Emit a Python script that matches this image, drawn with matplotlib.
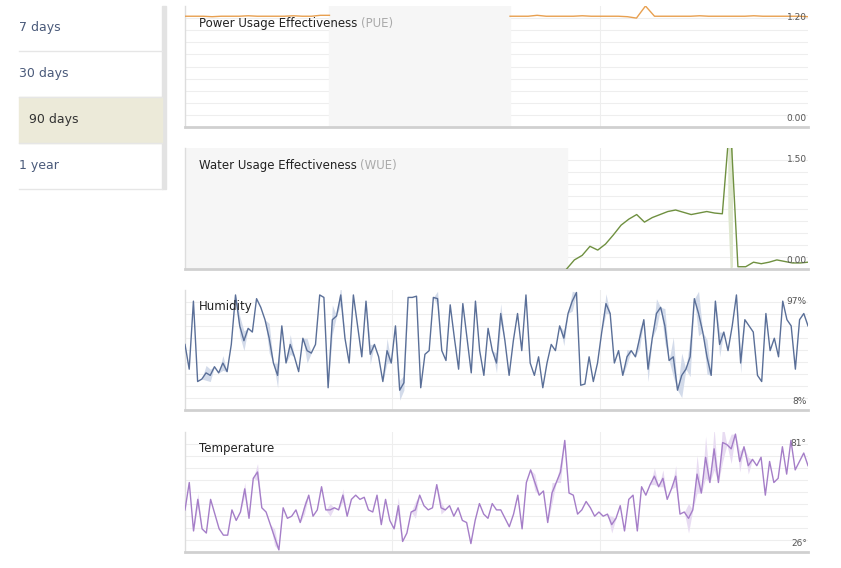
import numpy as np
import matplotlib
matplotlib.use("Agg")
import matplotlib.pyplot as plt
from matplotlib.patches import Rectangle

menu_items = ["7 days", "30 days", "90 days", "1 year"]
selected = "90 days"

pue_values = [1.19,1.19,1.19,1.185,1.19,1.19,1.19,1.195,1.19,1.19,1.19,1.19,1.195,1.19,1.19,1.2,1.2,
              None,None,None,None,None,None,None,None,None,None,None,None,None,None,None,None,None,None,None,
              1.19,1.19,1.19,1.2,1.19,1.19,1.19,1.19,1.195,1.19,1.19,1.19,1.19,1.185,1.17,1.30,1.19,1.19,1.19,
              1.19,1.19,1.195,1.19,1.19,1.19,1.19,1.19,1.195,1.19,1.19,1.19,1.19,1.19,1.185]
wue_values = [None]*49 + [0.0,0.12,0.18,0.3,0.25,0.33,0.45,0.58,0.66,0.72,0.62,0.68,0.72,0.76,0.78,0.75,
              0.72,0.74,0.76,0.74,0.73,2.0,0.03,0.03,0.09,0.07,0.09,0.12,0.10,0.08,0.08,0.09]
humidity = [55,35,90,25,27,32,30,37,32,40,33,55,95,70,58,68,65,92,85,75,60,40,30,70,40,55,45,33,
            60,50,48,55,95,93,20,75,78,95,60,40,95,70,45,90,47,55,45,25,50,40,70,18,24,93,93,94,20,
            47,50,93,92,50,42,87,60,35,88,60,32,90,50,30,68,50,40,80,58,30,58,80,50,95,40,30,45,20,
            40,55,50,70,60,80,90,97,22,23,45,25,40,65,88,80,40,50,30,45,50,45,60,75,35,60,80,85,70,
            42,45,18,30,35,45,92,80,65,45,30,90,55,65,50,70,95,40,75,70,65,30,25,80,50,60,45,90,75,
            70,35,75,80,70]
humidity_band = {5:6,6:5,9:6,13:8,14:8,20:12,22:10,25:8,29:10,35:12,37:8,44:8,48:10,51:8,52:6,
                 60:6,74:8,75:8,90:6,92:8,100:8,105:6,108:8,110:10,112:12,114:14,116:16,118:18,
                 120:16,122:18,124:14,127:10,132:8}
temperature = [45,58,35,50,36,34,50,43,36,33,33,45,40,44,55,41,60,63,46,44,38,32,26,46,41,42,
               45,39,46,52,42,45,56,45,45,46,45,52,42,50,52,50,51,45,44,52,38,50,40,36,47,30,
               34,44,45,52,47,45,46,57,46,45,47,42,46,40,39,29,40,48,43,41,48,45,45,41,37,43,
               52,36,58,64,58,52,54,39,53,58,63,78,53,52,43,45,49,46,42,44,42,43,38,41,47,35,
               50,52,35,56,52,57,61,56,60,50,55,61,43,44,41,45,62,53,70,58,74,58,77,76,74,81,
               68,75,66,69,66,70,52,68,58,60,75,62,78,64,68,72,66]
temperature_band = {3:3,14:3,17:4,21:4,28:3,34:3,37:3,50:4,54:4,60:3,82:4,86:5,88:5,100:4,
                    110:4,112:4,115:5,118:7,120:9,122:10,124:10,126:9,128:7,130:5,132:4}

W, H = 841, 568
fig = plt.figure(figsize=(W/100, H/100), dpi=100)
fig.patch.set_facecolor("white")

def fx(px): return px / W
def fy(py): return 1 - py / H

sb = fig.add_axes([0, 0, 1, 1], zorder=-5)
sb.set_xlim(0, W); sb.set_ylim(H, 0); sb.axis("off")
sb.add_patch(Rectangle((162, 6), 4, 183, color="#e3e3e3"))
ys = [5, 51, 97, 143, 189]
for i, item in enumerate(menu_items):
    y0, y1 = ys[i], ys[i+1]
    if item == selected:
        sb.add_patch(Rectangle((19, y0), 143, y1 - y0, color="#ecead9"))
        sb.text(29, (y0+y1)/2, item, va="center", ha="left", fontsize=9, color="#333333")
    else:
        sb.text(19, (y0+y1)/2, item, va="center", ha="left", fontsize=9, color="#4a5a7a")
    sb.plot([19, 162], [y1, y1], color="#e6e6e6", lw=1)

panels = [(6, 127), (148, 269), (290, 410), (432, 552)]
x0p, x1p = 185, 808

def make_ax(top, bot):
    ax = fig.add_axes([fx(x0p), fy(bot), (x1p-x0p)/W, (bot-top)/H])
    ax.set_facecolor("white")
    for s in ["top", "right"]:
        ax.spines[s].set_visible(False)
    ax.spines["left"].set_color("#dddddd"); ax.spines["left"].set_linewidth(1)
    ax.spines["bottom"].set_color("#d0d0d0"); ax.spines["bottom"].set_linewidth(2)
    ax.tick_params(left=False, bottom=False, labelleft=False, labelbottom=False)
    return ax

def grid(ax, lo, hi):
    for v in np.linspace(lo, hi, 11)[1:-1]:
        ax.axhline(v, color="#eeeeee", lw=0.8, zorder=0)
    for f in (0.332, 0.666):
        ax.axvline(ax.get_xlim()[0] + f*(ax.get_xlim()[1]-ax.get_xlim()[0]), color="#eeeeee", lw=0.8, zorder=0)

def title(ax, main, sub=None):
    t = ax.text(0.023, 0.83, main, transform=ax.transAxes, fontsize=8.5, color="#222222", zorder=5)
    if sub:
        fig.canvas.draw()
        bb = t.get_window_extent()
        inv = ax.transAxes.inverted()
        xe = inv.transform((bb.x1, bb.y0))[0]
        ax.text(xe + 0.005, 0.83, sub, transform=ax.transAxes, fontsize=8.5, color="#aaaaaa", zorder=5)

def rlabels(ax, top, bot):
    ax.text(0.998, 0.94, top, transform=ax.transAxes, ha="right", va="top", fontsize=6.5, color="#555555", zorder=6)
    ax.text(0.998, 0.03, bot, transform=ax.transAxes, ha="right", va="bottom", fontsize=6.5, color="#555555", zorder=6)

# PUE
ax = make_ax(*panels[0])
n = len(pue_values)
ax.set_xlim(0, n-1); ax.set_ylim(0, 1.30)
grid(ax, 0, 1.30)
pv = np.array([np.nan if v is None else v for v in pue_values], float)
nan_idx = np.where(np.isnan(pv))[0]
ax.axvspan(nan_idx[0]-1, nan_idx[-1]+1, color="#f6f6f6", zorder=1)
ax.plot(np.arange(n), pv, color="#e8a050", lw=1, zorder=3)
title(ax, "Power Usage Effectiveness", "(PUE)")
rlabels(ax, "1.20", "0.00")

# WUE
ax = make_ax(*panels[1])
n = len(wue_values)
ax.set_xlim(0, n-1); ax.set_ylim(0, 1.6)
grid(ax, 0, 1.6)
wv = np.array([np.nan if v is None else v for v in wue_values], float)
first = np.where(~np.isnan(wv))[0][0]
ax.axvspan(0, first, color="#f6f6f6", zorder=1)
sp = int(np.nanargmax(wv))
ax.fill_between([sp-0.3, sp, sp+0.3], [0.73, 0, 0.03], [1.7, 1.7, 1.7], color="#dfe8cf", zorder=2, lw=0)
ax.plot(np.arange(n), wv, color="#6f9040", lw=1, zorder=3)
title(ax, "Water Usage Effectiveness", "(WUE)")
rlabels(ax, "1.50", "0.00")

def banded(ax, vals, band, color, fill):
    v = np.array(vals, float)
    w = np.zeros_like(v)
    for k, b in band.items():
        if k < len(w): w[k] = b
    x = np.arange(len(v))
    ax.fill_between(x, v - w, v + w, color=fill, lw=0, zorder=2)
    ax.plot(x, v, color=color, lw=1, zorder=3)

ax = make_ax(*panels[2])
ax.set_xlim(0, len(humidity)-1); ax.set_ylim(2, 99)
grid(ax, 2, 99)
banded(ax, humidity, humidity_band, "#5a6f98", "#d3dbea")
title(ax, "Humidity")
rlabels(ax, "97%", "8%")

ax = make_ax(*panels[3])
ax.set_xlim(0, len(temperature)-1); ax.set_ylim(25, 82)
grid(ax, 25, 82)
banded(ax, temperature, temperature_band, "#a57ec8", "#e8dcf2")
title(ax, "Temperature")
rlabels(ax, "81°", "26°")

fig.savefig("out.png", dpi=100)
